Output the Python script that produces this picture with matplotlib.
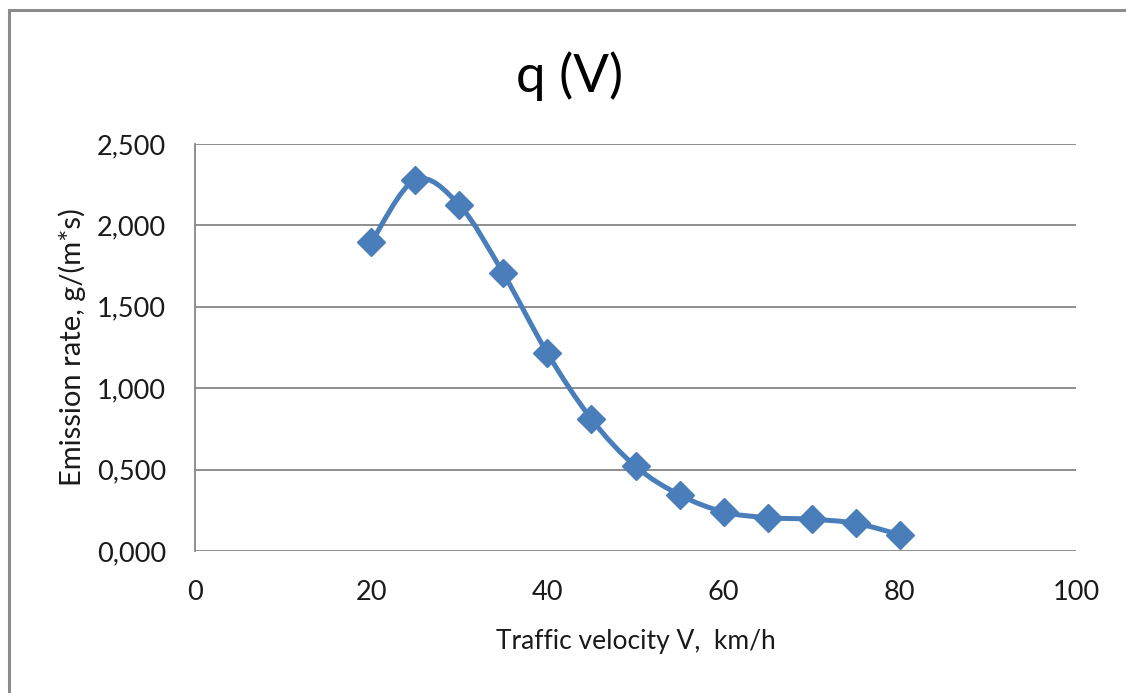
import matplotlib
matplotlib.use("Agg")
import matplotlib.pyplot as plt
from matplotlib.path import Path
from matplotlib.patches import PathPatch, Rectangle
from matplotlib.ticker import FuncFormatter, MultipleLocator

plt.rcParams['font.family'] = ['Lato', 'DejaVu Sans']

# Traffic velocity (km/h) and emission rate g/(m*s)
velocity = [20, 25, 30, 35, 40, 45, 50, 55, 60, 65, 70, 75, 80]
emission = [1.895, 2.28, 2.125, 1.705, 1.215, 0.81, 0.52, 0.345, 0.24, 0.205, 0.195, 0.17, 0.10]

title = "q (V)"
x_label = "Traffic velocity V,  km/h"
y_label = "Emission rate, g/(m*s)"

line_color = "#4A7EBB"
grid_color = "#868686"
text_color = "#1a1a1a"

fig = plt.figure(figsize=(11.26, 6.93), dpi=100)
fig.patch.set_facecolor("white")

# outer chart frame
fig.add_artist(Rectangle((8.5 / 1126, -0.1), 1.2, 1.1 - 9.5 / 693,
                         transform=fig.transFigure, fill=False,
                         edgecolor="#8c8c8c", linewidth=2.2))

ax = fig.add_axes([195 / 1126, 1 - 551 / 693, (1076 - 195) / 1126, (551 - 144) / 693])
ax.set_xlim(0, 100)
ax.set_ylim(0, 2.5)
ax.xaxis.set_major_locator(MultipleLocator(20))
ax.yaxis.set_major_locator(MultipleLocator(0.5))
ax.yaxis.set_major_formatter(FuncFormatter(lambda v, p: f"{v:.3f}".replace(".", ",")))

for s in ["top", "right", "bottom"]:
    ax.spines[s].set_visible(False)
ax.spines["left"].set_color(grid_color)
ax.spines["left"].set_linewidth(1.3)
ax.grid(axis="y", color=grid_color, linewidth=1.3)
ax.set_axisbelow(True)
ax.tick_params(length=0, labelsize=19.5, labelcolor=text_color)
ax.tick_params(axis="y", pad=21)
ax.tick_params(axis="x", pad=21)

# smoothed curve through the points (cubic Bezier segments, Catmull-Rom style)
pts = list(zip(velocity, emission))
verts = [pts[0]]
codes = [Path.MOVETO]
n = len(pts)
for i in range(n - 1):
    p0 = pts[i - 1] if i > 0 else pts[i]
    p1 = pts[i]
    p2 = pts[i + 1]
    p3 = pts[i + 2] if i + 2 < n else pts[i + 1]
    c1 = (p1[0] + (p2[0] - p0[0]) / 6, p1[1] + (p2[1] - p0[1]) / 6)
    c2 = (p2[0] - (p3[0] - p1[0]) / 6, p2[1] - (p3[1] - p1[1]) / 6)
    verts += [c1, c2, p2]
    codes += [Path.CURVE4] * 3
curve = PathPatch(Path(verts, codes), facecolor="none", edgecolor=line_color,
                  linewidth=3.6, capstyle="round", joinstyle="round", zorder=3)
ax.add_patch(curve)
ax.plot(velocity, emission, linestyle="none", marker="D", markersize=14,
        color=line_color, markeredgecolor=line_color, zorder=4, clip_on=False)

ax.set_xlabel(x_label, fontsize=19, labelpad=17, color=text_color)
ax.set_ylabel(y_label, fontsize=21, labelpad=8, color=text_color)
fig.text(570 / 1126, 1 - 76 / 693, title, fontsize=38, ha="center", va="center", color="black")

fig.savefig("out.png", dpi=100)
